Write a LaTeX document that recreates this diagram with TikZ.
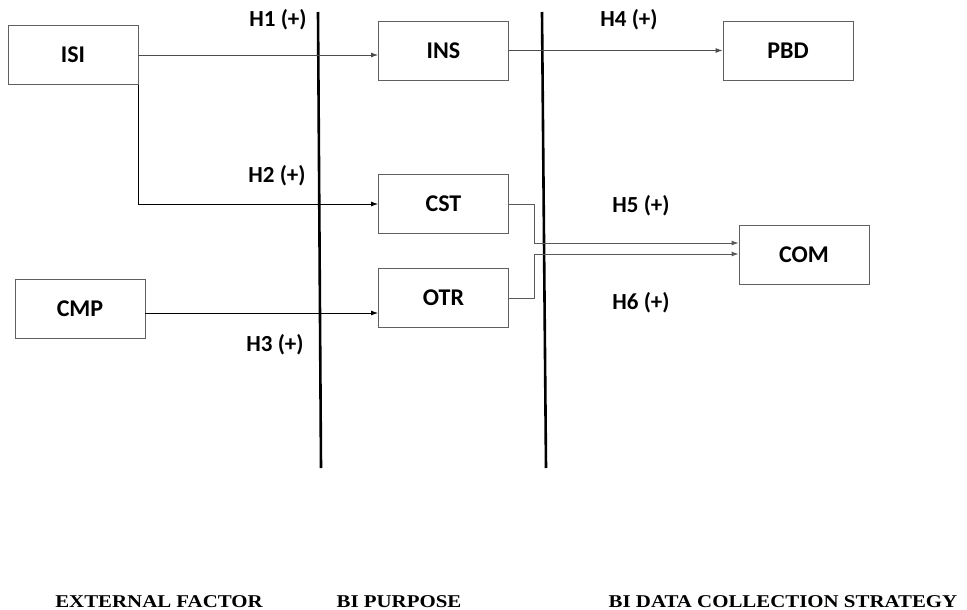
\documentclass[tikz,border=0pt]{standalone}
\usepackage{fontspec}
\newfontfamily\calibri{Carlito}
\newfontfamily\timesfont{Liberation Serif}
\usetikzlibrary{arrows.meta}
\begin{document}
\begin{tikzpicture}[x=1pt, y=-1pt,
  var/.style={draw=gray!75!black, line width=0.9pt, minimum width=130pt, minimum height=59pt,
    inner sep=0pt, font=\calibri\bfseries\fontsize{24}{28}\selectfont},
  hyp/.style={font=\calibri\bfseries\fontsize{23}{27}\selectfont},
  layer/.style={anchor=base, font=\timesfont\bfseries\fontsize{18}{20}\selectfont},
  link/.style={line width=0.9pt, -{Latex[length=7pt, width=5pt]}},
  bound/.style={line width=2.6pt}]
\useasboundingbox (0,0) rectangle (967,610);
% Variables
\node[var] (isi) at (73,55) {ISI};
\node[var] (cmp) at (80,309) {CMP};
\node[var] (ins) at (443.5,50.5) {INS};
\node[var] (cst) at (443.5,204) {CST};
\node[var] (otr) at (443.5,298) {OTR};
\node[var] (pbd) at (788,50.5) {PBD};
\node[var] (com) at (804,254.5) {COM};
% Separations
\coordinate (s1top) at (318,12);
\coordinate (s1bot) at (321,468);
\coordinate (s2top) at (542,12);
\coordinate (s2bot) at (546,468);
\draw[bound] (s1top) -- (s1bot);
\draw[bound] (s2top) -- (s2bot);
% Hypotheses
\draw[link, gray!60!black] (isi.east |- 0,55) -- (ins.west |- 0,55);
\draw[link] (isi.south east) |- (cst.west);
\draw[link] (cmp.east |- 0,313) -- (otr.west |- 0,313);
\draw[link, gray!60!black] (ins.east) -- (pbd.west);
\draw[link, gray!70!black] (cst.east) -| (534,243) -- (com.west |- 0,243);
\draw[link, gray!70!black] (otr.east) -| (534,254) -- (com.west |- 0,254);
\node[hyp] (h1) at (278,20) {H1 (+)};
\node[hyp] (h2) at (277,176) {H2 (+)};
\node[hyp] (h3) at (275,345) {H3 (+)};
\node[hyp] (h4) at (629,20) {H4 (+)};
\node[hyp] (h5) at (641,206) {H5 (+)};
\node[hyp] (h6) at (641,303) {H6 (+)};
% Niveaux
\node[layer] (ext) at (159,607) {\scalebox{1.16}[1]{EXTERNAL FACTOR}};
\node[layer] (pur) at (399,607) {\scalebox{1.16}[1]{BI PURPOSE}};
\node[layer] (dcs) at (783,607) {\scalebox{1.16}[1]{BI DATA COLLECTION STRATEGY}};
\end{tikzpicture}
\end{document}
